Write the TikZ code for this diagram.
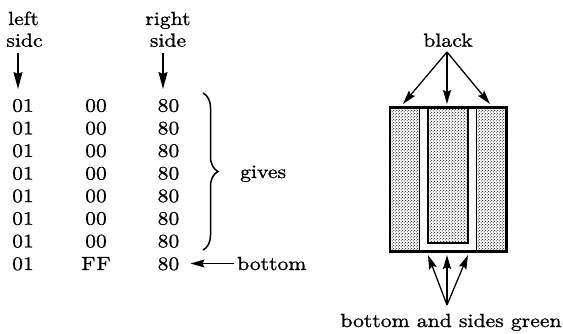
\documentclass[tikz,border=0pt]{standalone}
\usepackage{fontspec}
\newfontfamily\reffont{lmroman10-regular.otf}[FakeStretch=1.14, FakeBold=1]
\usetikzlibrary{arrows.meta,patterns.meta,decorations.pathreplacing}
\tikzdeclarepattern{
  name=stipple,
  type=uncolored,
  bounding box={(0pt,0pt) and (3.4pt,3.4pt)},
  tile size={(3.4pt,3.4pt)},
  code={\fill (0.85pt,0.85pt) circle (0.6pt); \fill (2.55pt,2.55pt) circle (0.6pt);}
}
\begin{document}
\begin{tikzpicture}[x=1pt,y=-1pt,
  font=\reffont\fontsize{19}{21}\selectfont,
  lbl/.style={inner sep=0pt, anchor=base},
  arr/.style={-{Stealth[length=14pt,width=8pt,inset=2pt]}, line width=1.3pt},
  longarr/.style={-{Stealth[length=17pt,width=9pt,inset=2pt]}, line width=1.4pt},
  dotfill/.style={pattern={stipple}, pattern color=black}]
\useasboundingbox (0,0) rectangle (563,333);
% headers
\node[lbl] (left) at (23.5,25) {left};
\node[lbl] (sidc) at (24.5,46.7) {sidc};
\node[lbl] (right) at (168,25) {right};
\node[lbl] (side) at (168,46.7) {side};
\coordinate (la) at (18,53); \coordinate (lb) at (18,89);
\coordinate (ra) at (163,53); \coordinate (rb) at (163,89);
\draw[longarr] (la) -- (lb);
\draw[longarr] (ra) -- (rb);
% rows
\foreach \i in {1,...,7}{
  \node[lbl] (a\i) at (23,{111.7+22.6*(\i-1)}) {01};
  \node[lbl] (b\i) at (96,{111.7+22.6*(\i-1)}) {00};
  \node[lbl] (c\i) at (168.5,{111.7+22.6*(\i-1)}) {80};
}
\node[lbl] (a8) at (23,270) {01};
\node[lbl] (b8) at (96,270) {F\kern1pt F};
\node[lbl] (c8) at (168.5,270) {80};
% brace
\coordinate (bt) at (203,93); \coordinate (bb) at (203,250);
\draw[decorate, decoration={brace, amplitude=15pt}, line width=1.5pt] (bt) -- (bb);
\node[lbl, anchor=base west] (gives) at (240,178) {gives};
% bottom
\node[lbl, anchor=base west] (bottom) at (237,270) {bottom};
\draw[arr, shorten <=3pt] (bottom.west) -- ([xshift=11pt]c8.east |- bottom.west);
% right figure
\node[lbl] (black) at (448,46.7) {black};
\coordinate (bk) at (447,52);
\coordinate (t1) at (403,104); \coordinate (t2) at (447,104); \coordinate (t3) at (490,104);
\draw[arr] (bk) -- (t1);
\draw[arr] (bk) -- (t2);
\draw[arr] (bk) -- (t3);
\path[dotfill] (390,107.3) rectangle (419.3,251.7);
\path[dotfill] (476.7,107.3) rectangle (506.7,251.7);
\path[dotfill] (428.3,107.3) rectangle (468.3,242.7);
\draw[line width=1.2pt] (419.3,107.3) -- (419.3,251.7);
\draw[line width=1.2pt] (476.7,107.3) -- (476.7,251.7);
\draw[line width=2pt] (428.3,107.3) rectangle (468.3,242.7);
\draw[line width=2.5pt] (390,107.3) rectangle (506.7,251.7);
\coordinate (g) at (447,305);
\coordinate (u1) at (428,255); \coordinate (u2) at (447,255); \coordinate (u3) at (468,255);
\draw[arr] (g) -- (u1);
\draw[arr] (g) -- (u2);
\draw[arr] (g) -- (u3);
\node[lbl] (green) at (451,327) {bottom and sides green};
\end{tikzpicture}
\end{document}
